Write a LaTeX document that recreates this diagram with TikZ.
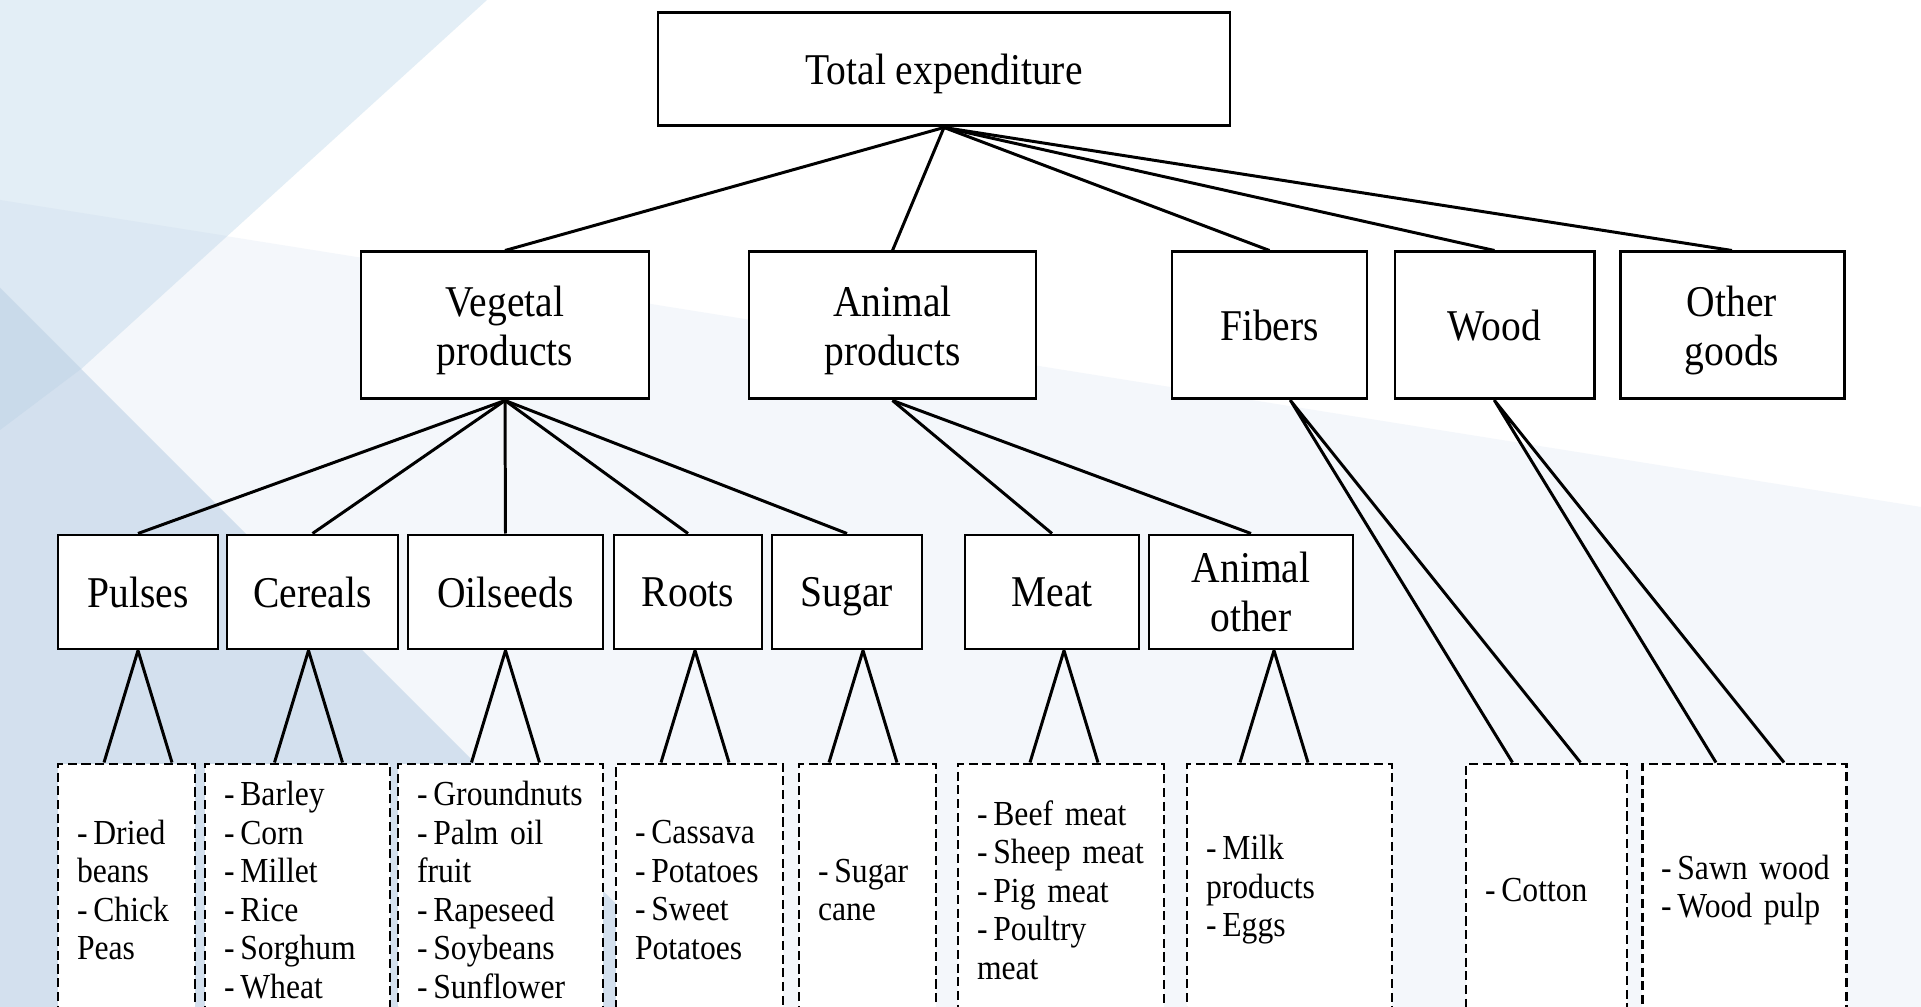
\documentclass[tikz,border=0pt]{standalone}
\usepackage{fontspec}
\setmainfont[FakeStretch=0.9]{Liberation Serif}
\definecolor{bgpale}{HTML}{F4F7FB}
\definecolor{bglight}{HTML}{E3EEF6}
\definecolor{bgmid}{HTML}{DCE8F3}
\definecolor{bgdark}{HTML}{D3E0EE}
\definecolor{bgdeep}{HTML}{C9DAEA}
\usetikzlibrary{calc}
\newcommand{\gooditem}[1]{\mbox{-\,#1}}

\begin{document}
\begin{tikzpicture}[
  catbox/.style={draw, line width=0.85pt, fill=white, align=center, inner sep=0pt, text depth=0pt, font=\fontsize{12.5}{13.9}\selectfont},
  listbox/.style={draw, dash pattern=on 2.6pt off 1.3pt, line width=0.85pt, fill=white, align=left, text width=#1, inner xsep=0.19cm, inner ysep=0pt, minimum height=2.52cm, font=\fontsize{10}{10.95}\selectfont},
  link/.style={line width=0.85pt, line join=round}
]
  \clip (0,0) rectangle (19.21,10.07);
  % background
  \fill[white] (0,0) rectangle (19.21,10.07);
  \fill[bgpale] (0,8.07) -- (19.21,5.0) -- (19.21,0) -- (0,0) -- cycle;
  \fill[bglight] (0,10.07) -- (4.87,10.07) -- (0.81,6.38) -- (0,5.77) -- cycle;
  \fill[bgmid] (0,8.07) -- (2.27,7.71) -- (0.81,6.38) -- (0,5.77) -- cycle;
  \fill[bgdark] (0,7.19) -- (7.19,0) -- (0,0) -- cycle;
  \fill[bgdeep] (0,7.19) -- (0.81,6.38) -- (0,5.77) -- cycle;

  \node[catbox, minimum width=5.72cm, minimum height=1.13cm] (total) at (9.44,9.375) {Total expenditure};

  \node[catbox, minimum width=2.88cm, minimum height=1.47cm] (veg) at (5.05,6.815) {Vegetal\\products};
  \node[catbox, minimum width=2.87cm, minimum height=1.47cm] (animal) at (8.925,6.815) {Animal\\products};
  \node[catbox, minimum width=1.95cm, minimum height=1.47cm] (fibers) at (12.695,6.815) {Fibers};
  \node[catbox, minimum width=1.99cm, minimum height=1.47cm] (wood) at (14.945,6.815) {Wood};
  \node[catbox, minimum width=2.24cm, minimum height=1.47cm] (other) at (17.32,6.815) {Other\\goods};

  \node[catbox, minimum width=1.60cm, minimum height=1.14cm] (pulses) at (1.38,4.15) {Pulses};
  \node[catbox, minimum width=1.71cm, minimum height=1.14cm] (cereals) at (3.125,4.15) {Cereals};
  \node[catbox, minimum width=1.95cm, minimum height=1.14cm] (oilseeds) at (5.055,4.15) {Oilseeds};
  \node[catbox, minimum width=1.48cm, minimum height=1.14cm] (roots) at (6.88,4.15) {Roots};
  \node[catbox, minimum width=1.50cm, minimum height=1.14cm] (sugar) at (8.47,4.15) {Sugar};
  \node[catbox, minimum width=1.74cm, minimum height=1.14cm] (meat) at (10.52,4.15) {Meat};
  \node[catbox, minimum width=2.04cm, minimum height=1.14cm] (animother) at (12.51,4.15) {Animal\\other};

  \node[listbox=0.99cm] (pulses-list) at (1.265,1.17) {\gooditem{Dried}\\beans\\\gooditem{Chick}\\Peas};
  \node[listbox=1.47cm] (cereals-list) at (2.975,1.17) {\gooditem{Barley}\\\gooditem{Corn}\\\gooditem{Millet}\\\gooditem{Rice}\\\gooditem{Sorghum}\\\gooditem{Wheat}};
  \node[listbox=1.67cm] (oilseeds-list) at (5.005,1.17) {\gooditem{Groundnuts}\\\gooditem{Palm oil}\\fruit\\\gooditem{Rapeseed}\\\gooditem{Soybeans}\\\gooditem{Sunflower}};
  \node[listbox=1.29cm] (roots-list) at (6.995,1.17) {\gooditem{Cassava}\\\gooditem{Potatoes}\\\gooditem{Sweet}\\Potatoes};
  \node[listbox=0.99cm] (sugar-list) at (8.675,1.17) {\gooditem{Sugar}\\cane};
  \node[listbox=1.68cm] (meat-list) at (10.61,1.17) {\gooditem{Beef meat}\\\gooditem{Sheep meat}\\\gooditem{Pig meat}\\\gooditem{Poultry}\\meat};
  \node[listbox=1.67cm] (animother-list) at (12.895,1.17) {\gooditem{Milk}\\products\\\gooditem{Eggs}};
  \node[listbox=1.23cm] (fibers-list) at (15.465,1.17) {\gooditem{Cotton}};
  \node[listbox=1.66cm] (wood-list) at (17.44,1.17) {\gooditem{Sawn wood}\\\gooditem{Wood pulp}};

  % links
  \foreach \n in {veg,animal,fibers,wood,other}
    \draw[link] (total.south) -- (\n.north);
  \foreach \n in {pulses,cereals,oilseeds,roots,sugar}
    \draw[link] (veg.south) -- (\n.north);
  \foreach \n in {meat,animother}
    \draw[link] (animal.south) -- (\n.north);

  \foreach \n/\dx in {pulses/0, cereals/-0.04, oilseeds/0, roots/0.07, sugar/0.16, meat/0.12, animother/0.23}{
    \coordinate (\n-tip) at ($(\n.south)+(\dx,0)$);
    \draw[link] ($(\n-list.north -| \n-tip)+(-0.34,0)$) -- (\n-tip) -- ($(\n-list.north -| \n-tip)+(0.34,0)$);
  }
  \foreach \n/\dx/\ex in {fibers/0.21/0, wood/0/0.06}{
    \coordinate (\n-tip) at ($(\n.south)+(\dx,0)$);
    \draw[link] ($(\n-list.north)+(\ex-0.34,0)$) -- (\n-tip) -- ($(\n-list.north)+(\ex+0.34,0)$);
  }
\end{tikzpicture}
\end{document}
